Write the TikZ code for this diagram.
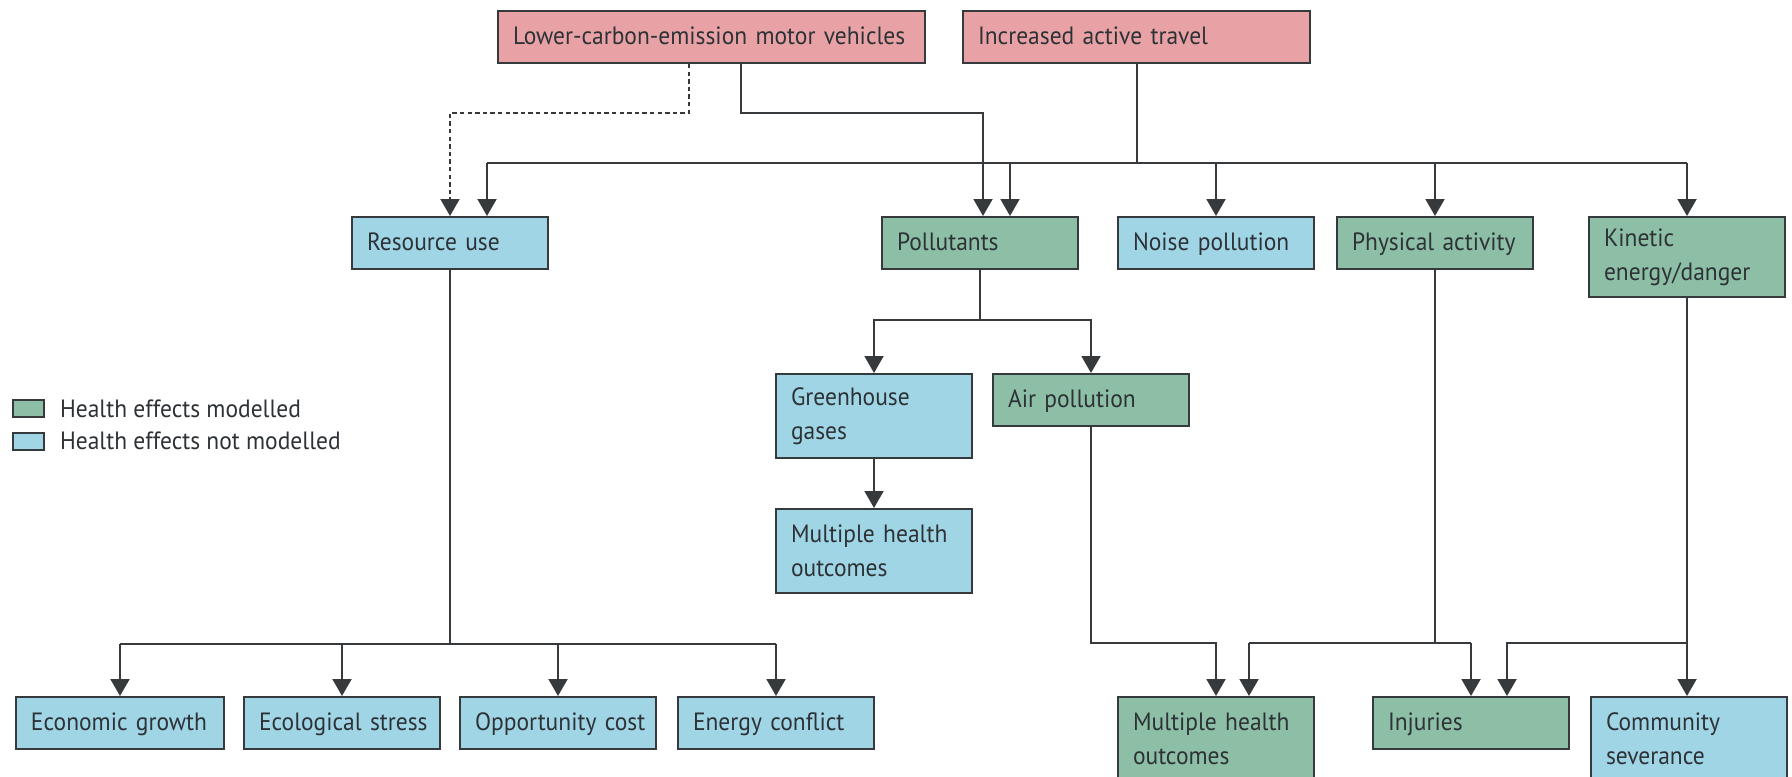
\documentclass[tikz,border=0pt]{standalone}
\usepackage{fontspec}
\setmainfont{PT Sans}[FakeStretch=0.94]
\usepackage{tikz}
\usetikzlibrary{arrows.meta, positioning, calc}
\definecolor{pinkbox}{RGB}{232,162,165}
\definecolor{greenbox}{RGB}{141,190,166}
\definecolor{bluebox}{RGB}{160,213,230}
\definecolor{edge}{RGB}{55,58,60}
\definecolor{ink}{RGB}{45,50,54}
\tikzstyle{effect} = [rectangle, anchor=north west, draw=edge, line width=1pt, inner xsep=7.5pt, inner ysep=0pt, text width=83pt, minimum height=26pt, align=left, text=ink, font=\fontsize{12.5}{17}\selectfont]
\tikzstyle{oneline} = [text height=9pt, text depth=2pt, execute at begin node=\hbox\bgroup, execute at end node=\egroup]
\tikzstyle{twoline} = [minimum height=42pt]
\tikzstyle{link} = [draw=edge, line width=1pt]
\tikzstyle{arrow} = [link, -{Triangle[length=8.5pt, width=9.5pt]}]
\tikzstyle{maybe} = [dash pattern=on 2.2pt off 1.6pt]
\tikzstyle{legendkey} = [rectangle, draw=edge, line width=1pt, minimum width=15.5pt, minimum height=8.5pt, inner sep=0pt]
\tikzstyle{legendtext} = [text=ink, font=\fontsize{12.5}{15}\selectfont, anchor=west]

\begin{document}
\begin{tikzpicture}[x=0.5pt, y=-0.5pt]
    \useasboundingbox (0,0) rectangle (1792,776);
    % interventions
    \node (lcv) [effect, oneline, fill=pinkbox, text width=198.5pt] at (497,10) {Lower-carbon-emission motor vehicles};
    \node (iat) [effect, oneline, fill=pinkbox, text width=158.5pt] at (962,10) {Increased active travel};
    % first level
    \node (res) [effect, oneline, fill=bluebox] at (351,216) {Resource use};
    \node (pol) [effect, oneline, fill=greenbox] at (881,216) {Pollutants};
    \node (noise) [effect, oneline, fill=bluebox] at (1117,216) {Noise pollution};
    \node (phys) [effect, oneline, fill=greenbox] at (1336,216) {Physical activity};
    \node (kin) [effect, fill=greenbox, minimum height=40pt] at (1588,216) {Kinetic\\energy/danger};
    % pollutants
    \node (ghg) [effect, twoline, fill=bluebox] at (775,373) {Greenhouse\\gases};
    \node (air) [effect, oneline, fill=greenbox] at (992,373) {Air pollution};
    \node (mho1) [effect, twoline, fill=bluebox] at (775,508) {Multiple health\\outcomes};
    % outcomes
    \node (eco) [effect, oneline, fill=bluebox, text width=89pt] at (15,696) {Economic growth};
    \node (ecol) [effect, oneline, fill=bluebox] at (243,696) {Ecological stress};
    \node (opp) [effect, oneline, fill=bluebox] at (459,696) {Opportunity cost};
    \node (enc) [effect, oneline, fill=bluebox] at (677,696) {Energy conflict};
    \node (mho2) [effect, twoline, fill=greenbox] at (1117,696) {Multiple health\\outcomes};
    \node (inj) [effect, oneline, fill=greenbox] at (1372,696) {Injuries};
    \node (com) [effect, twoline, fill=bluebox] at (1590,696) {Community\\severance};
    % legend
    \node (lgm) [legendkey, fill=greenbox] at (28.5,408.5) {};
    \node (lgn) [legendkey, fill=bluebox] at (28.5,441) {};
    \node (lgmt) [legendtext, right=4pt of lgm] {Health effects modelled};
    \node (lgnt) [legendtext, right=4pt of lgn] {Health effects not modelled};

    % bends and bars
    \coordinate (dsh) at (689,113);
    \coordinate (sol) at (741,113);
    \coordinate (tb) at (1135,163);
    \coordinate (pb) at (979,320);
    \coordinate (rb) at (451,644);
    \coordinate (hb) at (1088,643);
    \coordinate (resin) at ($(res.north)+(37,0)$);
    \coordinate (polin) at ($(pol.north)+(3,0)$);
    \coordinate (poltb) at ($(pol.north)+(30,0)$);
    \coordinate (mhoin) at ($(mho2.north)+(33,0)$);
    \coordinate (injin) at ($(inj.north)+(36,0)$);

    \draw [arrow, maybe] (lcv.south -| dsh) -- (dsh) -| (res.north);
    \draw [arrow] (lcv.south -| sol) -- (sol) -| (polin);
    \draw [link] (iat.south) -- (iat.south |- tb);
    \draw [link] (resin |- tb) -- (kin.north |- tb);
    \foreach \j in {resin, poltb, noise.north, phys.north, kin.north} {
        \draw [arrow] (\j |- tb) -- (\j);
    }

    \draw [link] (pol.south) -- (pol.south |- pb);
    \foreach \j in {ghg, air} {
        \draw [arrow] (pol.south |- pb) -| (\j.north);
    }
    \draw [arrow] (ghg.south) -- (mho1.north);

    \draw [link] (res.south) -- (res.south |- rb);
    \draw [link] (eco.north |- rb) -- (enc.north |- rb);
    \foreach \j in {eco, ecol, opp, enc} {
        \draw [arrow] (\j.north |- rb) -- (\j.north);
    }

    \draw [arrow] (air.south) |- (mho2.north |- hb) -- (mho2.north);
    \draw [link] (phys.south) -- (phys.south |- hb);
    \draw [link] (mhoin |- hb) -- (inj.north |- hb);
    \foreach \j in {mhoin, inj.north} {
        \draw [arrow] (\j |- hb) -- (\j);
    }
    \draw [arrow] (kin.south) -- (kin.south |- com.north);
    \draw [arrow] (kin.south |- hb) -| (injin);
\end{tikzpicture}
\end{document}
